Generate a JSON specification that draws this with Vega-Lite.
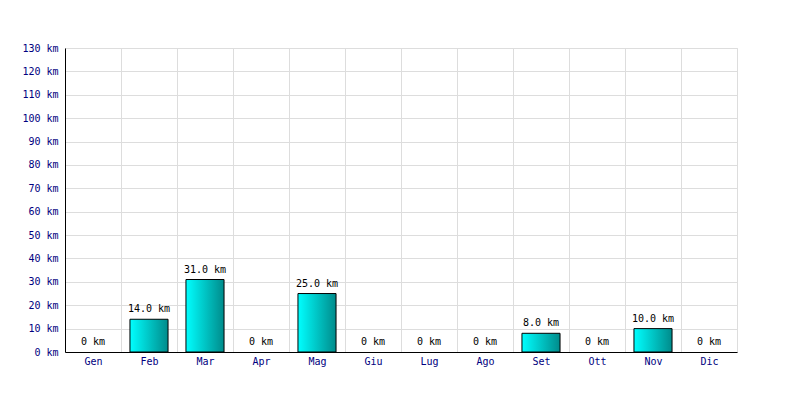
{
  "$schema": "https://vega.github.io/schema/vega-lite/v6.json",
  "autosize": "none",
  "width": 672,
  "height": 304,
  "padding": {"left": 65, "top": 48, "right": 63, "bottom": 48},
  "background": "white",
  "config": {
    "view": {"stroke": "#dddddd"},
    "font": "DejaVu Sans Mono"
  },
  "data": {
    "values": [
      {"month": "Gen", "km": 0},
      {"month": "Feb", "km": 14},
      {"month": "Mar", "km": 31},
      {"month": "Apr", "km": 0},
      {"month": "Mag", "km": 25},
      {"month": "Giu", "km": 0},
      {"month": "Lug", "km": 0},
      {"month": "Ago", "km": 0},
      {"month": "Set", "km": 8},
      {"month": "Ott", "km": 0},
      {"month": "Nov", "km": 10},
      {"month": "Dic", "km": 0}
    ]
  },
  "transform": [
    {"calculate": "datum.km > 0 ? format(datum.km, '.1f') + ' km' : '0 km'", "as": "label"}
  ],
  "encoding": {
    "x": {
      "field": "month",
      "type": "ordinal",
      "sort": null,
      "scale": {
        "domain": ["Gen", "Feb", "Mar", "Apr", "Mag", "Giu", "Lug", "Ago", "Set", "Ott", "Nov", "Dic"],
        "paddingInner": 0,
        "paddingOuter": 0
      },
      "axis": {
        "title": null,
        "labelAngle": 0,
        "labelColor": "#000080",
        "labelFont": "DejaVu Sans Mono",
        "labelFontSize": 10,
        "labelPadding": 4,
        "ticks": false,
        "tickBand": "extent",
        "grid": true,
        "gridColor": "#dddddd",
        "gridWidth": 1,
        "domainColor": "#000000",
        "domainWidth": 1
      }
    },
    "y": {
      "field": "km",
      "type": "quantitative",
      "scale": {"domain": [0, 130], "nice": false},
      "axis": {
        "title": null,
        "values": [0, 10, 20, 30, 40, 50, 60, 70, 80, 90, 100, 110, 120, 130],
        "labelExpr": "datum.value + ' km'",
        "labelColor": "#000080",
        "labelFont": "DejaVu Sans Mono",
        "labelFontSize": 10,
        "labelPadding": 7,
        "ticks": false,
        "grid": true,
        "gridColor": "#dddddd",
        "gridWidth": 1,
        "domainColor": "#000000",
        "domainWidth": 1
      }
    }
  },
  "layer": [
    {
      "transform": [{"filter": "datum.km > 0"}],
      "mark": {
        "type": "bar",
        "width": {"band": 0.68},
        "stroke": "#000000",
        "strokeWidth": 1,
        "color": {
          "gradient": "linear",
          "x1": 0, "x2": 1, "y1": 0, "y2": 0,
          "stops": [
            {"offset": 0, "color": "#00ffff"},
            {"offset": 1, "color": "#008b8b"}
          ]
        }
      }
    },
    {
      "mark": {
        "type": "text",
        "baseline": "bottom",
        "dy": -5,
        "font": "DejaVu Sans Mono",
        "fontSize": 10,
        "color": "#000000"
      },
      "encoding": {
        "text": {"field": "label", "type": "nominal"}
      }
    }
  ]
}
